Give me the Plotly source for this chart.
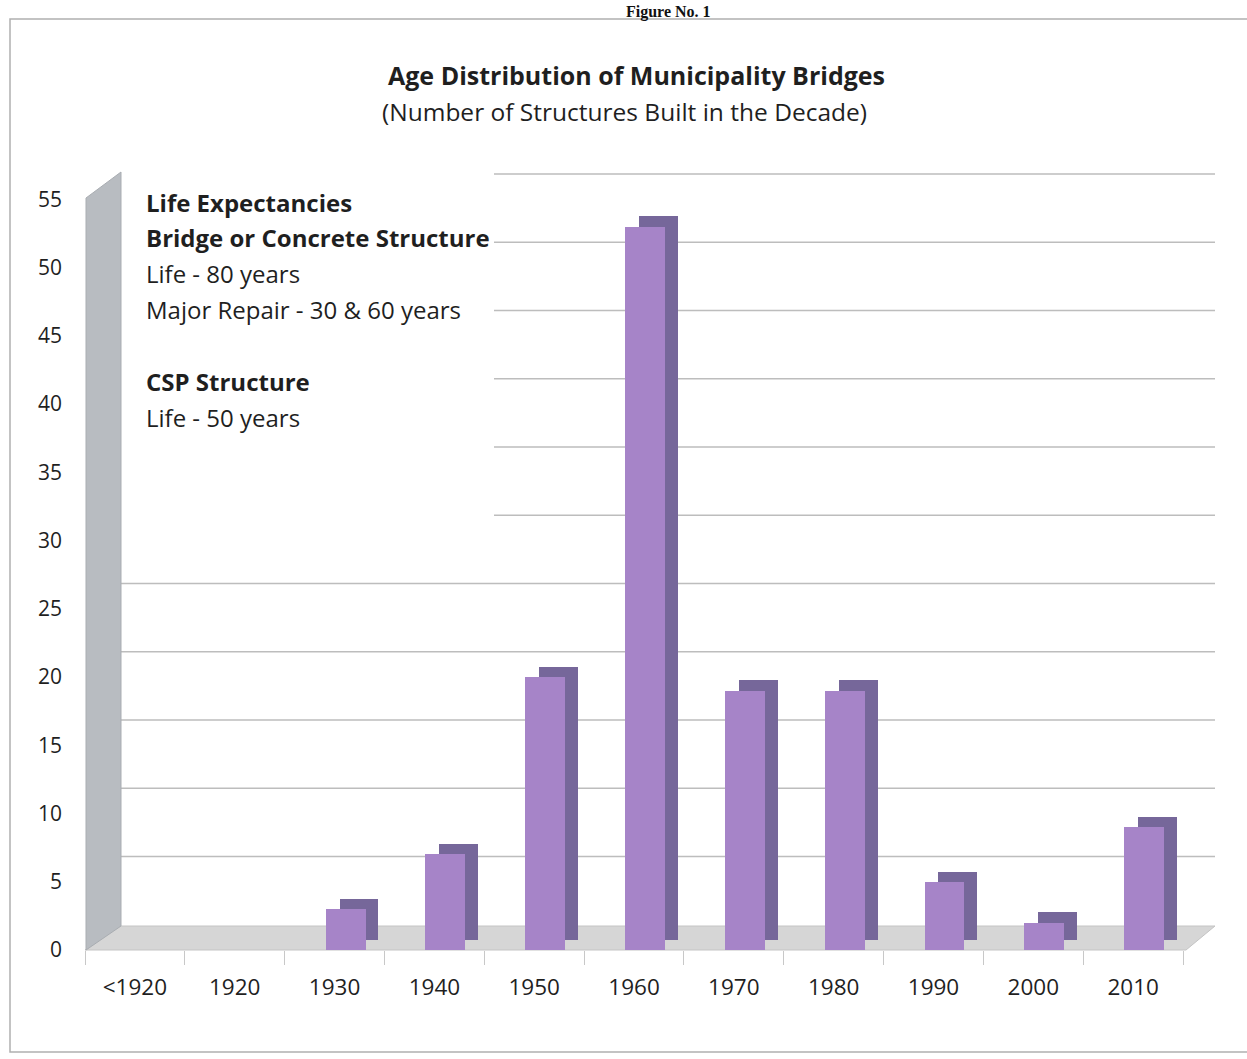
import plotly.graph_objects as go

# ---------------- data ----------------
categories = ["<1920", "1920", "1930", "1940", "1950", "1960", "1970", "1980", "1990", "2000", "2010"]
structures = [0, 0, 3, 7, 20, 53, 19, 19, 5, 2, 9]
y_ticks = [0, 5, 10, 15, 20, 25, 30, 35, 40, 45, 50, 55]

title_text = "Age Distribution of Municipality Bridges"
subtitle_text = "(Number of Structures Built in the Decade)"
figure_label = "Figure No. 1"
note_lines = [
    ("Life Expectancies", True),
    ("Bridge or Concrete Structure", True),
    ("Life - 80 years", False),
    ("Major Repair - 30 & 60 years", False),
    ("", False),
    ("CSP Structure", True),
    ("Life - 50 years", False),
]

# ---------------- geometry helpers ----------------
W, H = 1247, 1059
PL, PR, PT, PB = 85, 1215, 172, 950  # plot area in pixels
Y_MAX = 57.0
DEPTH = 1.85  # 3D back-wall offset in value units


def px(xp):
    return (xp - PL) / (PR - PL)


def py(yp):
    return (PB - yp) / (PB - PT)


FONT = "Open Sans"
TXT = "#1f1f1f"
FRONT = "#a684c8"
SIDE = "#76679a"

fig = go.Figure()

# depth (side/top) of the bars
fig.add_trace(go.Bar(
    x=categories, y=structures, base=0.75,
    offset=0.05, width=0.39,
    marker=dict(color=SIDE, line=dict(width=0)),
    hoverinfo="skip", showlegend=False,
))
# front faces
fig.add_trace(go.Bar(
    x=categories, y=structures,
    offset=-0.09, width=0.40,
    marker=dict(color=FRONT, line=dict(width=0)),
    showlegend=False,
))

shapes = []
# back-wall gridlines
for v in y_ticks[1:]:
    shapes.append(dict(type="line", xref="paper", yref="y",
                       x0=px(120), x1=px(1215), y0=v + DEPTH, y1=v + DEPTH,
                       line=dict(color="#bdbdbd", width=1.5), layer="below"))
# white text box that hides the gridlines behind the note
shapes.append(dict(type="rect", xref="paper", yref="paper",
                   x0=px(121), x1=px(494), y0=py(545), y1=py(160),
                   fillcolor="white", line=dict(width=0), layer="below"))
# floor
shapes.append(dict(type="path", xref="paper", yref="paper",
                   path=f"M {px(85)} {py(950)} L {px(118)} {py(926)} L {px(1215)} {py(926)} L {px(1186)} {py(950)} Z",
                   fillcolor="#d6d6d6", line=dict(color="#c4c4c4", width=1), layer="below"))
# left wall
shapes.append(dict(type="path", xref="paper", yref="paper",
                   path=f"M {px(86)} {py(950)} L {px(86)} {py(198)} L {px(121)} {py(172)} L {px(121)} {py(926)} Z",
                   fillcolor="#b8bcc1", line=dict(color="#a9adb2", width=1), layer="below"))
# chart frame
shapes.append(dict(type="rect", xref="paper", yref="paper",
                   x0=px(10), x1=px(1260), y0=py(1052), y1=py(19),
                   line=dict(color="#b0b0b0", width=1.5), fillcolor="rgba(0,0,0,0)", layer="below"))

annotations = [
    dict(text=f"<b>{figure_label}</b>", xref="paper", yref="paper", x=px(668), y=py(1),
         xanchor="center", yanchor="top", showarrow=False,
         font=dict(family="Liberation Serif", size=16, color="#111")),
    dict(text=f"<b>{title_text}</b>", xref="paper", yref="paper", x=px(636), y=py(75),
         xanchor="center", yanchor="middle", showarrow=False,
         font=dict(family=FONT, size=25, color=TXT)),
    dict(text=subtitle_text, xref="paper", yref="paper", x=px(624), y=py(112),
         xanchor="center", yanchor="middle", showarrow=False,
         font=dict(family=FONT, size=24.5, color=TXT)),
]
y0_line, step = 202, 35.9
for i, (t, bold) in enumerate(note_lines):
    if not t:
        continue
    annotations.append(dict(
        text=f"<b>{t}</b>" if bold else t, xref="paper", yref="paper",
        x=px(144), y=py(y0_line + i * step), xanchor="left", yanchor="middle",
        showarrow=False, font=dict(family=FONT, size=24, color=TXT)))

fig.update_layout(
    width=W, height=H,
    margin=dict(l=PL, r=W - PR, t=PT, b=H - PB),
    paper_bgcolor="white", plot_bgcolor="rgba(0,0,0,0)",
    barmode="overlay", bargap=0,
    shapes=shapes, annotations=annotations,
    font=dict(family=FONT, color=TXT),
    xaxis=dict(
        type="category", range=[-0.5, 10.82],
        showgrid=False, zeroline=False, showline=False,
        ticks="outside", tickson="boundaries", ticklen=14, tickcolor="#c8c8c8",
        tickfont=dict(family=FONT, size=22.5, color=TXT),
        ticklabelstandoff=21,
    ),
    yaxis=dict(
        range=[0, Y_MAX], tickvals=y_ticks,
        showgrid=False, zeroline=False, showline=False,
        ticks="", tickfont=dict(family=FONT, size=21, color=TXT),
        ticklabelstandoff=22,
    ),
)

fig.write_html("out.html")
